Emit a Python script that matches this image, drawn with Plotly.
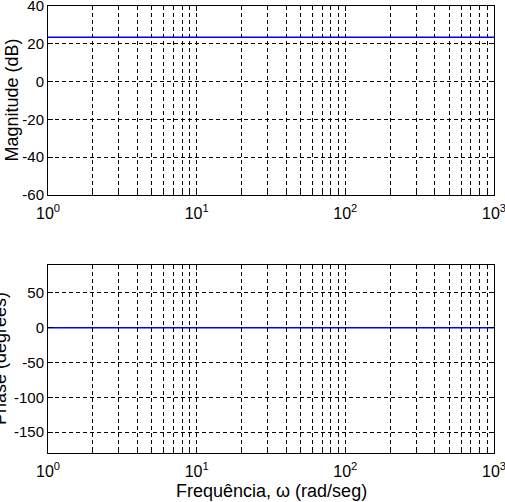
import plotly.graph_objects as go
from plotly.subplots import make_subplots

freq = [1, 10, 100, 1000]
magnitude_db = [23.5, 23.5, 23.5, 23.5]
phase_deg = [0, 0, 0, 0]
x_tickvals = [1, 10, 100, 1000]
x_ticktext = ["10<sup>0</sup>", "10<sup>1</sup>", "10<sup>2</sup>", "10<sup>3</sup>"]
mag_ticks = [-60, -40, -20, 0, 20, 40]
mag_ticktext = ["-60", "-40", "-20", "0", "20", "40"]
phase_ticks = [-150, -100, -50, 0, 50]
phase_ticktext = ["-150", "-100", "-50", "0", "50"]

W, H = 505, 502
ml, mr, mt, mb = 48, 11, 6, 49
ph = H - mt - mb

fig = make_subplots(rows=2, cols=1)
fig.add_trace(go.Scatter(x=freq, y=magnitude_db, mode="lines",
                         line=dict(color="#0000ff", width=1.5), showlegend=False), row=1, col=1)
fig.add_trace(go.Scatter(x=freq, y=phase_deg, mode="lines",
                         line=dict(color="#0000ff", width=1.5), showlegend=False), row=2, col=1)

fam = "Liberation Sans, Arial, sans-serif"
tickfont_x = dict(family=fam, size=16, color="black")
tickfont_y = dict(family=fam, size=15, color="black")
titlefont = dict(family=fam, size=18, color="black")
grid = dict(showgrid=True, gridcolor="black", gridwidth=1, griddash="4px,3px")

xcommon = dict(type="log", range=[0, 3], tickvals=x_tickvals, ticktext=x_ticktext,
               ticks="inside", ticklen=5, tickcolor="black", showline=True, linecolor="black",
               linewidth=1, mirror="ticks", zeroline=False, tickfont=tickfont_x,
               ticklabeloverflow="allow", ticklabelstandoff=4, automargin=False,
               minor=dict(showgrid=True, gridcolor="black", gridwidth=1, griddash="4px,3px",
                          ticks="inside", ticklen=3, tickcolor="black", dtick="D1"),
               **grid)
ycommon = dict(ticks="inside", ticklen=5, tickcolor="black", showline=True, linecolor="black",
               linewidth=1, mirror="ticks", zeroline=False, tickfont=tickfont_y,
               ticklabeloverflow="allow", automargin=False, **grid)

top_bottom = (H - mb - 195) / ph
bot_top = (H - mb - 265) / ph

fig.update_layout(
    width=W, height=H,
    margin=dict(l=ml, r=mr, t=mt, b=mb, autoexpand=False),
    paper_bgcolor="white", plot_bgcolor="white",
    font=titlefont,
    xaxis=dict(domain=[0, 1], **xcommon),
    xaxis2=dict(domain=[0, 1], **xcommon),
    yaxis=dict(domain=[top_bottom, 1], range=[-60, 40], tickvals=mag_ticks,
               ticktext=mag_ticktext, **ycommon),
    yaxis2=dict(domain=[0, bot_top], range=[-180, 90], tickvals=phase_ticks,
                ticktext=phase_ticktext, **ycommon),
    annotations=[
        dict(text="Magnitude (dB)", xref="paper", yref="paper", x=0, y=(top_bottom + 1) / 2,
             xshift=-36, textangle=-90, showarrow=False,
             font=dict(family=fam, size=18, color="black"),
             xanchor="center", yanchor="middle"),
        dict(text="Phase (degrees)", xref="paper", yref="paper", x=0, y=bot_top / 2,
             xshift=-48, textangle=-90, showarrow=False,
             font=dict(family=fam, size=18, color="black"),
             xanchor="center", yanchor="middle"),
        dict(text="Frequência, ω (rad/seg)", xref="paper", yref="paper", x=0.5, y=0,
             yshift=-38, showarrow=False, font=titlefont,
             xanchor="center", yanchor="middle"),
    ],
)

fig.write_html("out.html")
